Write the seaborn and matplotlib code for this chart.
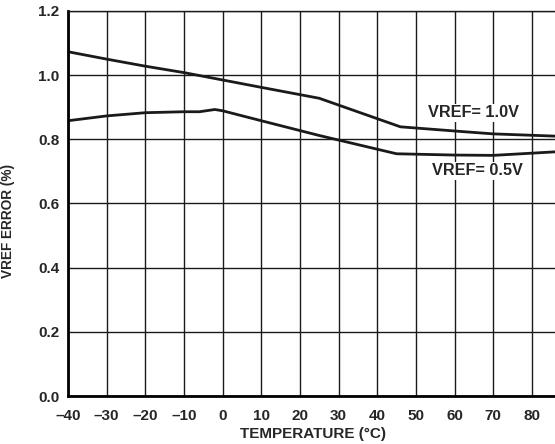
import numpy as np
import pandas as pd
import matplotlib
matplotlib.use("Agg")
import matplotlib.pyplot as plt
import seaborn as sns

# curve readings
temp_10 = [-40, -30, -20, -10, 0, 10, 25, 46, 60, 70, 86]
err_10 = [1.073, 1.050, 1.028, 1.008, 0.985, 0.962, 0.928, 0.839, 0.826, 0.817, 0.810]

temp_05 = [-40, -30, -20, -10, -6, -2, 0, 10, 25, 45, 60, 70, 86]
err_05 = [0.858, 0.873, 0.883, 0.886, 0.886, 0.893, 0.889, 0.858, 0.812, 0.755, 0.751, 0.750, 0.761]

x_ticks = list(range(-40, 81, 10))
y_ticks = [0.0, 0.2, 0.4, 0.6, 0.8, 1.0, 1.2]
labels = ["VREF= 1.0V", "VREF= 0.5V"]

sns.set_style("white")
plt.rcParams['font.family'] = ['Liberation Sans', 'DejaVu Sans']
plt.rcParams['font.weight'] = 'bold'

df = pd.concat([
    pd.DataFrame({"temp": temp_10, "err": err_10, "vref": labels[0]}),
    pd.DataFrame({"temp": temp_05, "err": err_05, "vref": labels[1]}),
])

fig = plt.figure(figsize=(5.55, 4.44), dpi=100)
ax = fig.add_axes([68 / 555, 1 - 396 / 444, 1 - 68 / 555, 385 / 444])

sns.lineplot(data=df, x="temp", y="err", units="vref", estimator=None,
             color="#1a1a1a", linewidth=2.0, ax=ax, legend=False, sort=False)

ax.set_xlim(-40, 86)
ax.set_ylim(0, 1.2)
ax.set_xticks(x_ticks)
ax.set_yticks(y_ticks)
ax.set_xticklabels([str(t).replace("-", "\u2013") for t in x_ticks])
ax.set_yticklabels([f"{v:.1f}" for v in y_ticks])
ax.grid(True, color="#1a1a1a", linewidth=1.0)
ax.tick_params(length=0, labelsize=11)
ax.tick_params(axis="y", pad=6)
ax.tick_params(axis="x", pad=9)

for s in ["left", "bottom"]:
    ax.spines[s].set_linewidth(2.0)
    ax.spines[s].set_color("black")
ax.spines["top"].set_linewidth(1.0)
ax.spines["top"].set_color("#1a1a1a")
ax.spines["right"].set_visible(False)

ax.set_xlabel("TEMPERATURE (°C)", fontsize=11, fontweight="bold")
ax.set_ylabel("VREF ERROR (%)", fontsize=9.8, fontweight="bold")
ax.xaxis.set_label_coords(0.504, -0.08)
ax.yaxis.set_label_coords(-0.109, 0.455)

ax.text(65, 0.883, labels[0], fontsize=11.7, fontweight="bold", ha="center", va="center",
        bbox=dict(facecolor="white", edgecolor="none", pad=1))
ax.text(66, 0.702, labels[1], fontsize=11.7, fontweight="bold", ha="center", va="center",
        bbox=dict(facecolor="white", edgecolor="none", pad=1))

fig.savefig("out.png", dpi=100)
